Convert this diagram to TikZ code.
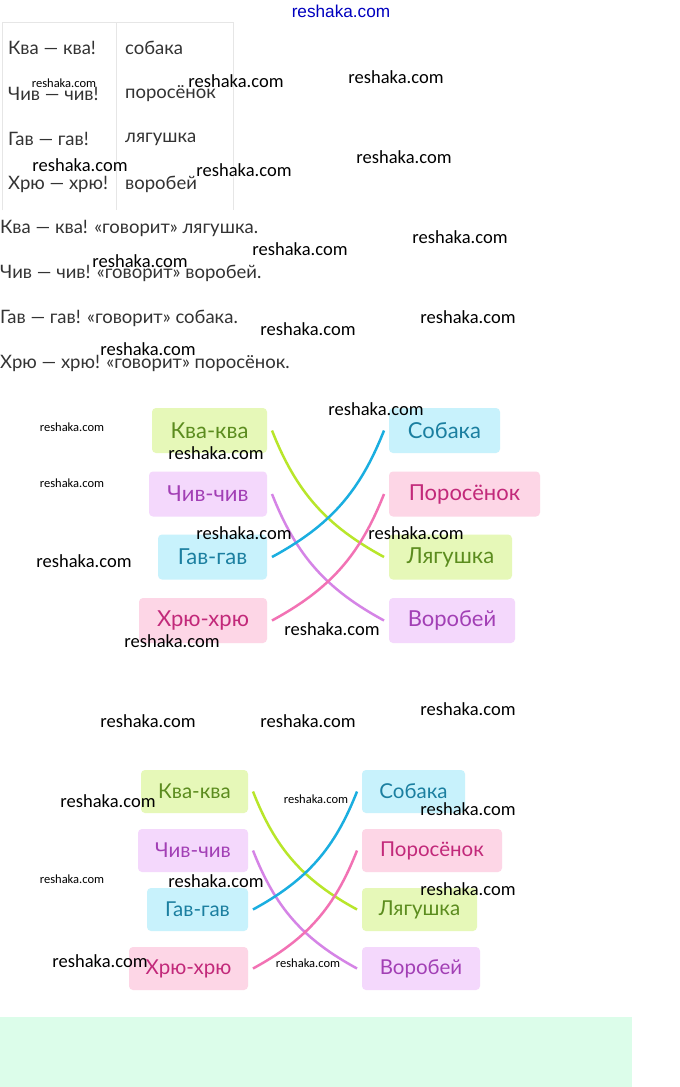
\documentclass[tikz,border=0pt]{standalone}
\usepackage{fontspec}
\setmainfont{Lato}
\newfontfamily\wmfont{Carlito}
\newfontfamily\hdfont{Liberation Sans}
\usetikzlibrary{positioning}

\definecolor{boxgreen}{HTML}{E6F8B8}
\definecolor{boxpurple}{HTML}{F4D8FC}
\definecolor{boxcyan}{HTML}{C8F2FC}
\definecolor{boxpink}{HTML}{FDD6E6}
\definecolor{txtgreen}{HTML}{5B8C1E}
\definecolor{txtpurple}{HTML}{A23FB5}
\definecolor{txtcyan}{HTML}{1B7FA0}
\definecolor{txtpink}{HTML}{C2297A}
\definecolor{lngreen}{HTML}{B8E62A}
\definecolor{lnpurple}{HTML}{D584E6}
\definecolor{lncyan}{HTML}{1AAEE0}
\definecolor{lnpink}{HTML}{F272B4}
\definecolor{mint}{HTML}{DCFDEA}
\definecolor{gridgray}{HTML}{E6E6E6}
\definecolor{inkgray}{HTML}{333333}

\begin{document}
\begin{tikzpicture}[x=1pt, y=-1pt,
  txt/.style={anchor=west, inner sep=0pt, text=inkgray, font=\fontsize{18.5}{18.5}\selectfont},
  wm/.style={inner sep=0pt, font=\wmfont\fontsize{18.5}{18.5}\selectfont},
  wms/.style={inner sep=0pt, font=\wmfont\fontsize{12.5}{12.5}\selectfont},
  box/.style={rectangle, rounded corners=4pt, inner sep=0pt, outer xsep=5pt, minimum height=45pt, font=\fontsize{22}{22}\selectfont},
  boxs/.style={box, minimum height=43pt, font=\fontsize{20.5}{20.5}\selectfont},
  bgreen/.style={fill=boxgreen, text=txtgreen},
  bpurple/.style={fill=boxpurple, text=txtpurple},
  bcyan/.style={fill=boxcyan, text=txtcyan},
  bpink/.style={fill=boxpink, text=txtpink},
  link/.style={line width=2.5pt, bend right=20}]

\fill[white] (0,0) rectangle (680,1087);

% header mark
\node[inner sep=0pt, text=blue!75!black, font=\hdfont\fontsize{17.2}{17.2}\selectfont] (head) at (341,11) {reshaka.com};

% table
\draw[gridgray, line width=1pt] (2,210) -- (2,22) -- (233,22) -- (233,210);
\draw[gridgray, line width=1pt] (116,22) -- (116,210);
\node[txt] (ta1) at (8,48) {Ква — ква!};
\node[txt] (ta2) at (8,94) {Чив — чив!};
\node[txt] (ta3) at (8,139) {Гав — гав!};
\node[txt] (ta4) at (8,184) {Хрю — хрю!};
\node[txt] (tb1) at (125,48) {собака};
\node[txt] (tb2) at (125,94) {поросёнок};
\node[txt] (tb3) at (125,139) {лягушка};
\node[txt] (tb4) at (125,184) {воробей};

% sentences
\node[txt] (s1) at (0,228) {Ква — ква! «говорит» лягушка.};
\node[txt] (s2) at (0,273) {Чив — чив! «говорит» воробей.};
\node[txt] (s3) at (0,318) {Гав — гав! «говорит» собака.};
\node[txt] (s4) at (0,363) {Хрю — хрю! «говорит» поросёнок.};

% first matching
\node[box, bgreen, minimum width=115pt] (kva1) at (209.5,430.5) {Ква-ква};
\node[box, bpurple, minimum width=118pt] (chiv1) at (208,494) {Чив-чив};
\node[box, bcyan, minimum width=109pt] (gav1) at (212.5,557) {Гав-гав};
\node[box, bpink, minimum width=128pt] (hryu1) at (203,620.5) {Хрю-хрю};
\node[box, bcyan, minimum width=111pt] (sob1) at (444.5,430.5) {Собака};
\node[box, bpink, minimum width=151pt] (por1) at (464.5,494) {Поросёнок};
\node[box, bgreen, minimum width=123pt] (lyag1) at (450.5,557) {Лягушка};
\node[box, bpurple, minimum width=126pt] (vor1) at (452,620.5) {Воробей};

\draw[link, lngreen] (kva1.east) to (lyag1.west);
\draw[link, lnpurple] (chiv1.east) to (vor1.west);
\draw[link, lncyan] (gav1.east) to (sob1.west);
\draw[link, lnpink] (hryu1.east) to (por1.west);

% second matching
\node[boxs, bgreen, minimum width=107pt] (kva2) at (194.5,791.5) {Ква-ква};
\node[boxs, bpurple, minimum width=110pt] (chiv2) at (193,850.5) {Чив-чив};
\node[boxs, bcyan, minimum width=101pt] (gav2) at (197.5,909.5) {Гав-гав};
\node[boxs, bpink, minimum width=119pt] (hryu2) at (188.5,968.5) {Хрю-хрю};
\node[boxs, bcyan, minimum width=103pt] (sob2) at (413.5,791.5) {Собака};
\node[boxs, bpink, minimum width=140pt] (por2) at (432,850.5) {Поросёнок};
\node[boxs, bgreen, minimum width=115pt] (lyag2) at (419.5,909.5) {Лягушка};
\node[boxs, bpurple, minimum width=118pt] (vor2) at (421,968.5) {Воробей};

\draw[link, lngreen] (kva2.east) to (lyag2.west);
\draw[link, lnpurple] (chiv2.east) to (vor2.west);
\draw[link, lncyan] (gav2.east) to (sob2.west);
\draw[link, lnpink] (hryu2.east) to (por2.west);

% footer band
\fill[mint] (0,1017) rectangle (632,1087);

% watermarks
\foreach \x/\y [count=\i] in {236/81, 396/77, 80/165, 244/170, 404/157, 300/249, 460/237,
    140/261, 308/329, 468/317, 148/349, 376/409, 216/453, 244/533, 416/533, 84/561,
    332/629, 172/641, 148/721, 308/721, 468/709, 108/801, 468/809, 216/881, 468/889, 100/961}
  \node[wm] (wm\i) at (\x,\y) {reshaka.com};
\foreach \x/\y [count=\i] in {64/83, 72/427, 72/483, 316/799, 72/879, 308/963}
  \node[wms] (wms\i) at (\x,\y) {reshaka.com};
\end{tikzpicture}
\end{document}
